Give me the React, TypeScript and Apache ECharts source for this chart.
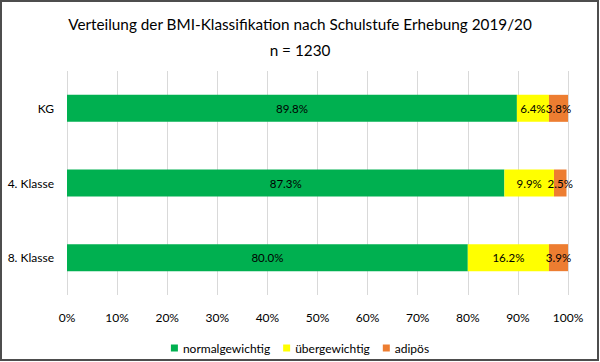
import React, { useEffect, useRef } from "react";
import * as echarts from "echarts";

const categories = ["KG", "4. Klasse", "8. Klasse"];
const normalgewichtig = [89.8, 87.3, 80.0];
const uebergewichtig = [6.4, 9.9, 16.2];
const adipoes = [3.8, 2.5, 3.9];
const seriesNames = ["normalgewichtig", "übergewichtig", "adipös"];
const colors = ["#00B050", "#FFFF00", "#ED7D31"];
const xTicks = [0, 10, 20, 30, 40, 50, 60, 70, 80, 90, 100];

const FONT = "Lato";

export default function App() {
  const ref = useRef<HTMLDivElement>(null);
  useEffect(() => {
    document.body.style.margin = "0";
    const chart = echarts.init(ref.current!, null, { renderer: "svg" });
    const data = [normalgewichtig, uebergewichtig, adipoes];
    chart.setOption({
      animation: false,
      backgroundColor: "#ffffff",
      textStyle: { fontFamily: FONT },
      title: {
        text: "Verteilung der BMI-Klassifikation nach Schulstufe Erhebung 2019/20\nn = 1230",
        left: "center",
        top: 6,
        textStyle: {
          fontFamily: FONT,
          fontSize: 15.3,
          fontWeight: "normal",
          color: "#000000",
          lineHeight: 26,
        },
      },
      legend: {
        bottom: 3,
        left: "center",
        itemWidth: 7,
        itemHeight: 7,
        itemGap: 13,
        icon: "rect",
        textStyle: { fontFamily: FONT, fontSize: 12, color: "#000000" },
        data: seriesNames,
      },
      grid: { left: 67, right: 32, top: 71, bottom: 67 },
      xAxis: {
        type: "value",
        min: 0,
        max: 100,
        interval: 10,
        axisLine: { show: false },
        axisTick: { show: false },
        splitLine: { lineStyle: { color: "#D9D9D9", width: 1 } },
        axisLabel: {
          formatter: (v: number) => (xTicks.includes(v) ? v + "%" : ""),
          color: "#000000",
          fontFamily: FONT,
          fontSize: 12,
          margin: 16,
        },
      },
      yAxis: {
        type: "category",
        data: categories,
        inverse: true,
        axisLine: { show: false },
        axisTick: { show: false },
        axisLabel: { color: "#000000", fontFamily: FONT, fontSize: 12, margin: 13 },
      },
      series: seriesNames.map((name, i) => ({
        name,
        type: "bar",
        stack: "total",
        barWidth: 27,
        itemStyle: { color: colors[i] },
        label: {
          show: true,
          position: "inside",
          formatter: (p: any) => p.value.toFixed(1) + "%",
          color: "#000000",
          fontFamily: FONT,
          fontSize: 11.5,
        },
        labelLayout: { hideOverlap: false },
        data: data[i],
      })),
      graphic: [
        {
          type: "rect",
          shape: { x: 1, y: 1, width: 597, height: 359 },
          style: { fill: "none", stroke: "#4D4D4D", lineWidth: 2 },
          silent: true,
          z: 100,
        },
      ],
    });
    return () => chart.dispose();
  }, []);
  return <div ref={ref} style={{ width: 600, height: 362 }} />;
}
